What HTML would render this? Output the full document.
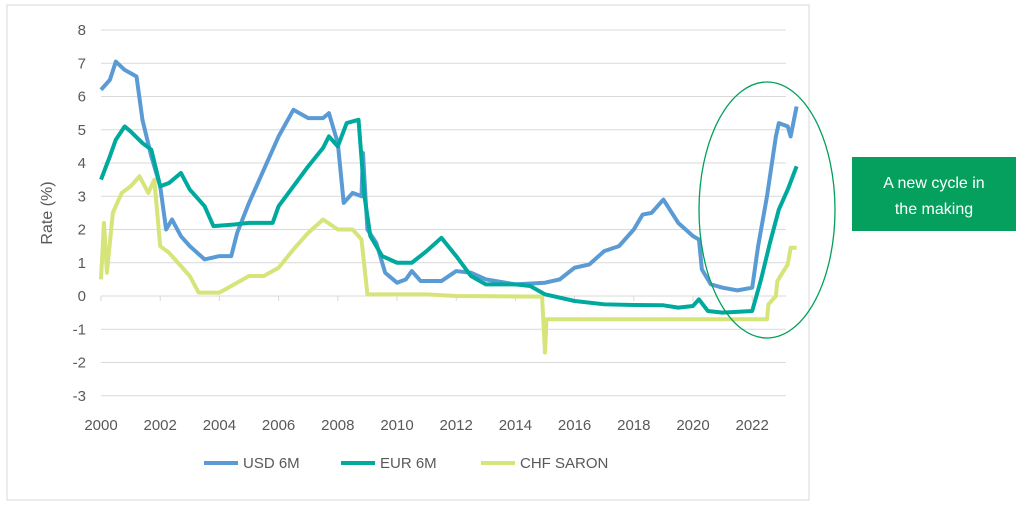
<!DOCTYPE html>
<html><head><meta charset="utf-8"><style>
body{margin:0;background:#fff;font-family:"Liberation Sans",sans-serif}
svg text{font-family:"Liberation Sans",sans-serif;fill:#595959}
</style></head><body>
<svg width="1024" height="507" viewBox="0 0 1024 507">
<rect x="7" y="5" width="802" height="495" fill="#fff" stroke="#d9d9d9"/>
<g id="grid"></g><g id="ticks"></g><g id="series"></g>
<text x="52" y="213" font-size="16" text-anchor="middle" transform="rotate(-90 52 213)">Rate (%)</text>
<g>
<line x1="204" y1="463" x2="238" y2="463" stroke="#5b9bd5" stroke-width="4"/><text x="243" y="468" font-size="15">USD 6M</text>
<line x1="341" y1="463" x2="375" y2="463" stroke="#00a99d" stroke-width="4"/><text x="380" y="468" font-size="15">EUR 6M</text>
<line x1="481" y1="463" x2="515" y2="463" stroke="#d6e47a" stroke-width="4"/><text x="520" y="468" font-size="15">CHF SARON</text>
</g>
<ellipse cx="767" cy="210" rx="68" ry="128" fill="none" stroke="#00a05a" stroke-width="1.3"/>
<rect x="852" y="157" width="164" height="74" fill="#06a05e"/>
<text x="934" y="188" font-size="16" text-anchor="middle" style="fill:#fff">A new cycle in</text>
<text x="934" y="214" font-size="16" text-anchor="middle" style="fill:#fff">the making</text>
</svg>
<script>
const yTicks=[8,7,6,5,4,3,2,1,0,-1,-2,-3];
const xTicks=[2000,2002,2004,2006,2008,2010,2012,2014,2016,2018,2020,2022];
const usdYears=[2000,2000.3,2000.5,2000.8,2001.2,2001.4,2001.7,2002.0,2002.2,2002.4,2002.7,2003.0,2003.5,2004.0,2004.4,2004.6,2005.0,2005.5,2006.0,2006.5,2007.0,2007.5,2007.7,2008.0,2008.2,2008.5,2008.8,2008.85,2009.0,2009.3,2009.6,2010.0,2010.3,2010.5,2010.8,2011.5,2012.0,2012.5,2013.0,2014.0,2015.0,2015.5,2016.0,2016.5,2017.0,2017.5,2018.0,2018.3,2018.6,2019.0,2019.5,2020.0,2020.2,2020.3,2020.6,2021.0,2021.5,2022.0,2022.2,2022.5,2022.8,2022.9,2023.2,2023.3,2023.5];
const usdValues=[6.2,6.5,7.05,6.8,6.6,5.3,4.2,3.3,2.0,2.3,1.8,1.5,1.1,1.2,1.2,1.9,2.8,3.8,4.8,5.6,5.35,5.35,5.5,4.6,2.8,3.1,3.0,4.3,2.0,1.6,0.7,0.4,0.5,0.75,0.45,0.45,0.75,0.7,0.5,0.35,0.4,0.5,0.85,0.95,1.35,1.5,2.0,2.45,2.5,2.9,2.2,1.8,1.7,0.8,0.35,0.25,0.17,0.25,1.5,3.0,4.8,5.2,5.1,4.8,5.7];
const eurYears=[2000,2000.3,2000.5,2000.8,2001.0,2001.4,2001.7,2002.0,2002.3,2002.7,2003.0,2003.5,2003.8,2004.5,2005.0,2005.8,2006.0,2006.5,2007.0,2007.5,2007.7,2008.0,2008.3,2008.7,2008.9,2009.1,2009.5,2010.0,2010.5,2011.0,2011.5,2012.0,2012.5,2013.0,2014.0,2014.5,2015.0,2016.0,2017.0,2018.0,2019.0,2019.5,2020.0,2020.2,2020.5,2021.0,2022.0,2022.3,2022.6,2022.9,2023.2,2023.5];
const eurValues=[3.5,4.2,4.7,5.1,4.95,4.6,4.4,3.3,3.4,3.7,3.2,2.7,2.1,2.15,2.2,2.2,2.7,3.3,3.9,4.45,4.8,4.5,5.2,5.3,3.0,1.8,1.2,1.0,1.0,1.35,1.75,1.2,0.6,0.35,0.35,0.3,0.05,-0.15,-0.25,-0.27,-0.28,-0.35,-0.3,-0.1,-0.45,-0.5,-0.45,0.5,1.6,2.6,3.2,3.9];
const chfYears=[2000,2000.1,2000.2,2000.4,2000.7,2001.0,2001.3,2001.6,2001.8,2002.0,2002.3,2002.6,2003.0,2003.3,2004.0,2004.5,2005.0,2005.5,2006.0,2006.5,2007.0,2007.5,2008.0,2008.5,2008.8,2009.0,2011.0,2012.0,2014.9,2015.0,2015.05,2020.0,2021.0,2022.5,2022.55,2022.8,2022.85,2023.2,2023.3,2023.5];
const chfValues=[0.5,2.2,0.7,2.5,3.1,3.3,3.6,3.1,3.5,1.5,1.3,1.0,0.6,0.1,0.1,0.35,0.6,0.6,0.85,1.4,1.9,2.3,2.0,2.0,1.7,0.05,0.05,0.0,-0.02,-1.7,-0.7,-0.7,-0.7,-0.7,-0.25,0.0,0.45,0.95,1.45,1.45];
const NS="http://www.w3.org/2000/svg";
const x=yr=>101+(yr-2000)*29.6;
const y=v=>296-v*33.25;
const grid=document.getElementById('grid'),ticks=document.getElementById('ticks'),ser=document.getElementById('series');
yTicks.forEach(t=>{
 const l=document.createElementNS(NS,'line');
 l.setAttribute('x1',101);l.setAttribute('x2',786);l.setAttribute('y1',y(t));l.setAttribute('y2',y(t));
 l.setAttribute('stroke','#d9d9d9');l.setAttribute('stroke-width','1');
 
 
 grid.appendChild(l);
 const tx=document.createElementNS(NS,'text');
 tx.setAttribute('x',86);tx.setAttribute('y',y(t)+5);tx.setAttribute('text-anchor','end');tx.setAttribute('font-size','15');
 tx.textContent=t;
 
 
 ticks.appendChild(tx);
});
xTicks.forEach(t=>{
 const l=document.createElementNS(NS,'line');
 l.setAttribute('x1',x(t));l.setAttribute('x2',x(t));l.setAttribute('y1',296);l.setAttribute('y2',301);
 l.setAttribute('stroke','#d9d9d9');
 
 
 grid.appendChild(l);
 const tx=document.createElementNS(NS,'text');
 tx.setAttribute('x',x(t));tx.setAttribute('y',430);tx.setAttribute('text-anchor','middle');tx.setAttribute('font-size','15');
 tx.textContent=t;
 
 
 ticks.appendChild(tx);
});
function draw(xs,vs,col,name){
 const p=document.createElementNS(NS,'polyline');
 p.setAttribute('points',xs.map((a,i)=>x(a)+','+y(vs[i])).join(' '));
 p.setAttribute('fill','none');p.setAttribute('stroke',col);p.setAttribute('stroke-width','4');p.setAttribute('stroke-linejoin','round');
 
 
 ser.appendChild(p);
}
draw(chfYears,chfValues,'#d6e47a','chf-saron-line');
draw(usdYears,usdValues,'#5b9bd5','usd-6m-line');
draw(eurYears,eurValues,'#00a99d','eur-6m-line');
</script>
</body></html>
